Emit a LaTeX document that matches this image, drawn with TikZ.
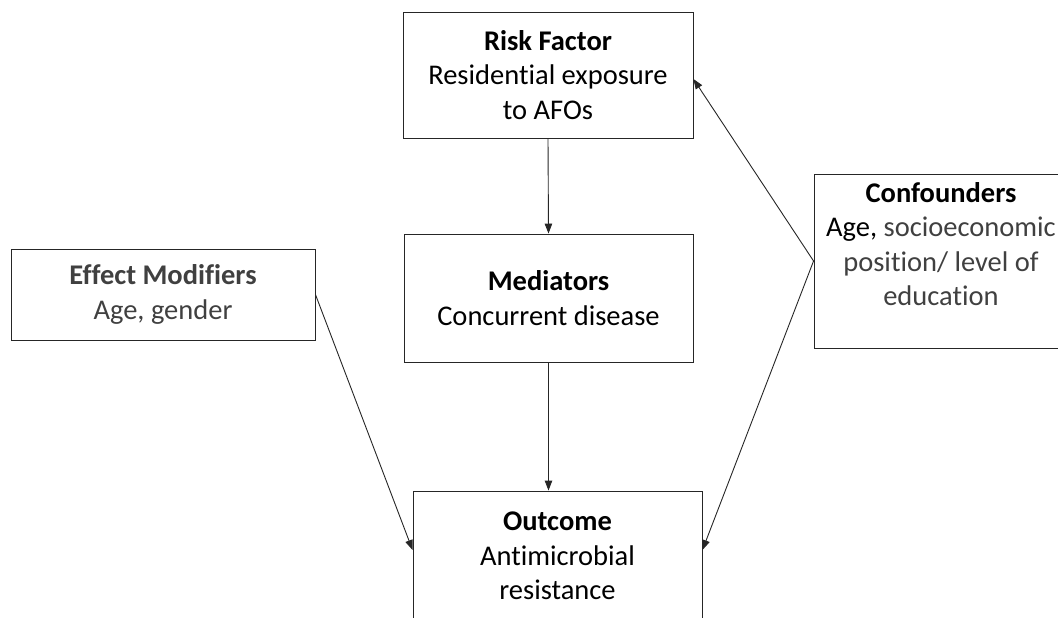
\documentclass[tikz,border=0pt]{standalone}
\usepackage{fontspec}
\setmainfont{Carlito}[Ligatures=NoCommon]
\usetikzlibrary{positioning, arrows.meta}
\definecolor{txtgrey}{HTML}{404040}
\newcommand{\vpad}[1]{\rule[-#1]{0pt}{#1}}
\tikzset{
    box/.style={draw=black!85, line width=0.9pt, align=center, inner sep=0pt,
        font=\fontsize{28.5}{34.5}\selectfont},
    link/.style={draw=black!85, line width=0.9pt, -{Triangle[length=10pt, width=7.5pt]}}
}

\begin{document}
\begin{tikzpicture}[x=1pt, y=-1pt]
                \useasboundingbox (0,0) rectangle (1058,618);
                \clip (0,0) rectangle (1058,618);

                %Nodes
                \node[box, minimum width=290pt, minimum height=126pt] at (548,75) (RF)
                    {\textbf{Risk Factor}\\Residential exposure\\to AFOs};
                \node[box, minimum width=289pt, minimum height=128pt] at (548.5,298) (Med)
                    {\textbf{Mediators}\\Concurrent disease};
                \node[box, text=txtgrey, minimum width=304pt, minimum height=91pt] at (163,294.5) (EM)
                    {\textbf{Effect Modifiers}\\Age, gender};
                \node[box, minimum width=254pt, minimum height=174pt] at (941,261) (Conf)
                    {\textbf{Confounders}\\Age, {\color{txtgrey}socioeconomic}\\{\color{txtgrey}position/ level of}\\{\color{txtgrey}education}\vpad{34pt}};
                \node[box, minimum width=289pt, minimum height=130pt] at (557.5,556) (Out)
                    {\textbf{Outcome}\\Antimicrobial\\resistance};

                %Lines
                \draw[link] (RF.south) -- (Med.north);
                \draw[link] (Med.south) -- (Med.south |- Out.north);
                \draw[link] (EM.east) -- ([yshift=6pt]Out.west);
                \draw[link] (Conf.west) -- ([yshift=-4pt]RF.east);
                \draw[link] (Conf.west) -- ([yshift=6pt]Out.east);
            \end{tikzpicture}
\end{document}
